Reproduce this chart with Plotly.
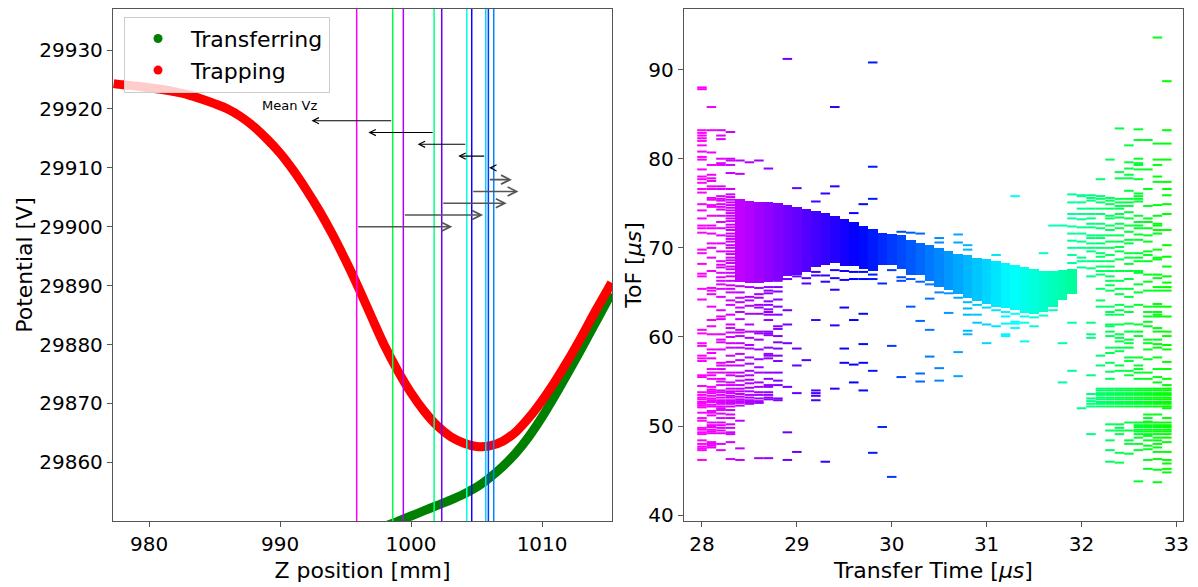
import plotly.graph_objects as go
from plotly.colors import sample_colorscale

# ---------------- left panel: on-axis potential ----------------
trap_z = [977.3, 978, 979, 980, 981, 982, 983, 984, 985, 986, 987, 988, 989, 990, 991, 992, 993,
          994, 995, 996, 997, 998, 999, 1000, 1001, 1002, 1003, 1004, 1005, 1006, 1007, 1008,
          1009, 1010, 1011, 1012, 1013, 1014, 1015, 1015.3]
trap_v = [29924.3, 29924.1, 29923.9, 29923.6, 29923.3, 29922.9, 29922.4, 29921.7, 29920.9,
          29920.0, 29918.7, 29917.0, 29914.9, 29912.5, 29909.6, 29906.3, 29902.7, 29898.7,
          29894.3, 29889.6, 29884.6, 29879.7, 29875.5, 29871.8, 29868.7, 29866.2, 29864.4,
          29863.3, 29862.7, 29862.8, 29863.6, 29865.2, 29867.6, 29870.5, 29873.8, 29877.4,
          29881.3, 29885.4, 29889.3, 29890.5]

transfer_z = [997.5, 998.3, 999, 1000, 1001, 1002, 1003, 1004, 1005, 1006, 1007, 1008, 1009, 1010,
              1011, 1012, 1013, 1014, 1015, 1015.3]
transfer_v = [29848.8, 29849.4, 29850.0, 29850.9, 29851.8, 29852.7, 29853.6, 29854.6, 29855.8,
              29857.4, 29859.3, 29861.6, 29864.4, 29867.7, 29871.4, 29875.3, 29879.3, 29883.4,
              29887.5, 29888.7]

# mean ion position and mean Vz at selected transfer times
mean_t = [28.0, 28.5, 29.0, 29.5, 30.0, 30.5, 31.0, 31.5, 32.0, 32.5]
mean_z = [995.85, 999.41, 1002.34, 1004.63, 1005.90, 1006.31, 1005.70, 1004.25, 1001.76, 998.60]
vz_tip_z = [1003.15, 1005.50, 1007.30, 1008.20, 1007.70, 1005.95, 1003.60, 1000.50, 996.74, 992.40]
vz_arrow_v = [29900, 29902, 29904, 29906, 29908, 29910, 29912, 29914, 29916, 29918]

# ---------------- right panel: ToF vs transfer time ----------------
col_t = [28.0, 28.1, 28.2, 28.3, 28.4, 28.5, 28.6, 28.7, 28.8, 28.9,
         29.0, 29.1, 29.2, 29.3, 29.4, 29.5, 29.6, 29.7, 29.8, 29.9,
         30.0, 30.1, 30.2, 30.3, 30.4, 30.5, 30.6, 30.7, 30.8, 30.9,
         31.0, 31.1, 31.2, 31.3, 31.4, 31.5, 31.6, 31.7, 31.8, 31.9,
         32.0, 32.1, 32.2, 32.3, 32.4, 32.5, 32.6, 32.7, 32.8, 32.9]

tof_280 = [88.0, 87.8, 83.2, 82.9, 82.6, 82.3, 82.0, 81.5, 80.8, 80.2, 79.9, 78.8, 78.0, 77.7, 77.3,
           76.6, 76.2, 74.9, 74.2, 73.3, 72.5, 72.2, 71.7, 69.8, 69.4, 68.2, 67.1, 66.8, 65.4, 64.2,
           60.8, 60.4, 59.3, 59.0, 57.9, 57.6, 57.3, 55.7, 55.5, 54.5, 53.8, 53.5, 53.2, 53.0, 52.7,
           52.5, 52.3, 52.1, 51.5, 50.9, 50.6, 49.8, 49.6, 49.3, 49.1, 48.4, 48.0, 47.7, 47.5, 47.3, 46.2]
tof_281 = [85.8, 83.2, 80.7, 79.3, 78.2, 77.8, 77.5, 76.9, 76.6, 75.6, 75.4, 74.8, 74.6, 73.6, 72.5,
           72.2, 71.6, 70.5, 70.0, 68.9, 67.4, 65.5, 65.2, 64.8, 63.4, 61.9, 61.2, 60.3, 58.6, 58.2,
           57.6, 56.4, 56.0, 55.7, 55.3, 54.4, 54.1, 53.9, 53.7, 53.4, 53.1, 52.9, 52.7, 52.4, 52.2,
           51.7, 51.5, 51.2, 50.4, 50.1, 49.9, 49.6, 49.4, 49.2, 48.2, 48.0, 47.8, 47.6]
tof_282 = [83.2, 82.6, 82.2, 80.0, 79.5, 79.3, 76.9, 76.6, 75.8, 75.5, 75.3, 74.9, 74.6, 74.3, 73.6,
           72.9, 72.2, 71.4, 70.5, 69.6, 68.5, 68.1, 67.8, 67.2, 66.7, 66.3, 65.9, 65.4, 64.5, 63.0,
           62.3, 62.0, 60.3, 59.7, 59.4, 58.6, 57.1, 56.8, 56.4, 56.0, 55.3, 55.0, 54.6, 54.0, 53.8,
           53.5, 53.2, 52.9, 52.7, 52.5, 52.2, 52.0, 51.8, 51.4, 50.9, 50.4, 50.1, 49.8, 49.5, 49.2,
           48.0, 47.3]
tof_283 = [83.0, 80.0, 79.8, 79.3, 78.4, 76.6, 76.0, 75.7, 75.4, 75.1, 74.8, 74.5, 74.2, 73.9, 73.6,
           73.3, 73.0, 72.6, 72.3, 72.0, 71.6, 71.3, 71.0, 70.7, 70.3, 70.0, 69.6, 69.3, 68.9, 68.6,
           68.3, 67.9, 67.6, 67.2, 66.8, 66.3, 65.8, 65.4,
           65.0, 64.1, 63.6, 62.5, 61.4, 61.0, 60.5, 60.0, 59.3, 58.8, 57.9, 57.2, 56.8, 56.0, 55.7,
           54.9, 54.6, 54.2, 53.9, 53.7, 53.4, 53.2, 52.9, 52.7, 52.5, 52.2, 51.8, 51.3, 50.9, 50.2,
           49.8, 49.3, 49.1, 48.2, 46.3]
tof_284 = [79.8, 78.3, 65.7, 65.0, 64.4, 63.9, 63.3, 62.8,
           62.0, 60.8, 60.5, 60.1, 59.3, 58.8, 58.1, 57.4, 56.8, 56.0, 55.6, 55.1, 54.6, 54.2, 53.9,
           53.6, 53.3, 53.0, 52.8, 52.6, 52.3, 50.6, 47.5, 46.2]
tof_285 = [79.6, 65.6, 64.5, 64.1, 63.5, 62.6, 61.4,
           60.6, 59.9, 59.1, 58.7, 57.7, 57.0, 56.2, 55.7, 55.2, 54.8, 54.3, 53.9, 53.5, 53.2, 52.9,
           52.7, 52.5]
tof_286 = [79.8, 65.5, 64.8, 64.4, 63.6, 63.3, 62.6, 60.6,
           60.4, 59.7, 58.6, 57.5, 56.6, 56.0, 54.9, 54.4, 53.8, 53.5, 53.1, 52.8, 52.6, 46.4]
tof_287 = [78.9, 65.6, 65.2, 64.9, 64.0, 63.6, 63.1, 62.8, 62.5, 61.9, 60.6, 60.4, 60.2, 58.8, 58.1,
           57.9, 57.6, 56.0, 55.3, 54.6, 54.4, 53.8, 53.5, 53.2, 53.0, 46.4]
tof_288 = [66.3, 65.6, 65.1, 64.2, 63.4, 62.5, 61.2, 60.9, 60.1, 59.4, 58.7, 57.9, 57.3, 56.0, 55.1,
           54.6, 53.1, 52.9]
tof_289 = [91.2, 66.5, 63.0, 61.4, 59.3, 54.4, 49.3, 46.2]
tof_290 = [76.7, 66.8, 58.7, 56.8, 53.7, 47.1]
tof_291 = [66.6, 66.0, 57.4]
tof_292 = [75.2, 67.3, 66.9, 61.9, 54.0, 53.7, 53.4, 52.9]
tof_293 = [76.1, 66.9, 66.2, 46.0]
tof_294 = [85.8, 76.9, 67.5, 66.6, 65.3, 61.3, 54.2]
tof_295 = [67.4, 66.4, 63.3, 58.7, 57.1]
tof_296 = [73.9, 67.3, 66.5, 61.9, 56.9, 54.9]
tof_297 = [74.9, 67.3, 66.5, 62.6, 59.2, 57.1, 54.0]
tof_298 = [90.8, 79.1, 75.5, 67.0, 66.5, 56.2, 47.0]
tof_299 = [66.0, 49.9]
tof_300 = [67.5, 59.0, 44.3]
tof_301 = [71.8, 66.7, 66.3, 55.5]
tof_302 = [71.7, 66.5, 63.4]
tof_303 = [71.6, 66.2, 61.8, 55.9, 55.0]
tof_304 = [65.9, 64.3, 60.8, 57.8]
tof_305 = [71.1, 70.6, 65.0, 56.5, 55.1]
tof_306 = [64.9, 62.7]
tof_307 = [71.5, 70.6, 64.4, 58.3, 55.6]
tof_308 = [70.3, 69.8, 63.9, 63.2, 62.5, 60.7, 60.3]
tof_309 = [63.6, 62.5, 61.6]
tof_310 = [63.3, 61.4, 59.3]
tof_311 = [69.2, 63.0, 61.2]
tof_312 = [62.8, 62.3, 61.5, 60.3, 60.1]
tof_313 = [75.8, 62.6, 61.7, 61.5, 61.0]
tof_314 = [62.3, 61.6, 59.5]
tof_315 = [62.2, 61.2]
tof_316 = [69.4, 62.4]
tof_317 = [72.5, 63.0]
tof_318 = [72.5, 59.3, 54.9]
tof_319 = [76.0, 75.1, 73.8, 73.3, 72.4, 71.6, 70.8, 70.0, 69.2, 68.3, 61.6, 56.2]
tof_320 = [75.9, 75.8, 75.1, 74.4, 73.8, 73.2, 72.3, 71.6, 70.7, 70.0, 68.9, 68.5, 67.8, 52.0]
tof_321 = [75.9, 75.6, 75.3, 74.4, 73.8, 73.3, 72.7, 72.3, 71.4, 71.1, 70.5, 70.0, 69.6, 68.5, 67.7,
           66.8, 61.6, 60.3, 59.9, 55.7, 53.6, 53.1, 52.8, 52.5, 52.2, 49.1]
tof_322 = [77.7, 75.8, 75.5, 75.1, 74.4, 73.8, 72.7, 72.2, 71.4, 71.1, 70.5, 70.0, 69.4, 69.0, 68.5,
           67.9, 67.4, 67.0, 65.4, 64.1, 63.4, 57.9, 56.8, 54.2, 54.0, 53.7, 53.5, 53.2, 53.0, 52.7,
           52.5, 52.2]
tof_323 = [79.9, 75.6, 75.3, 74.9, 74.4, 73.6, 73.3, 72.5, 72.0, 71.4, 70.7, 70.0, 69.2, 68.5, 67.9,
           67.4, 66.8, 66.3, 65.8, 65.2, 63.4, 62.8, 62.5, 61.4, 61.2, 60.6, 60.1, 58.8, 58.2, 57.1,
           56.1, 55.3, 54.2, 54.0, 53.7, 53.5, 53.2, 53.0, 52.7, 52.5, 52.2, 50.2, 49.5, 48.4, 47.3, 46.0]
tof_324 = [83.4, 78.5, 77.8, 75.5, 75.1, 74.7, 74.4, 73.8, 73.4, 72.7, 72.2, 71.4, 70.7, 70.1, 69.6,
           68.7, 67.4, 66.3, 65.4, 64.8, 63.6, 63.0, 62.5, 61.4, 60.3, 59.9, 59.5, 58.8, 58.4, 56.8,
           56.2, 54.2, 54.0, 53.7, 53.5, 53.2, 53.0, 52.7, 52.5, 52.2, 50.2, 49.8, 49.5, 49.1, 47.0, 45.9]
tof_325 = [81.5, 79.6, 78.9, 78.2, 77.8, 76.4, 75.5, 75.1, 74.7, 74.0, 73.3, 72.5, 71.8, 70.9, 70.5,
           69.4, 68.9, 68.2, 67.4, 66.5, 65.4, 64.5, 63.4, 62.8, 61.5, 60.6, 59.7, 59.3, 58.8, 57.7,
           57.3, 56.2, 55.7, 54.2, 54.0, 53.7, 53.5, 53.2, 53.0, 52.7, 52.5, 52.2, 50.4, 49.5, 48.4,
           48.0, 46.9]
tof_326 = [83.3, 82.1, 80.0, 79.5, 79.3, 78.8, 77.7, 76.1, 75.8, 75.5, 75.2, 73.6, 72.9, 72.5, 72.2,
           71.5, 70.9, 69.4, 68.9, 68.5, 67.4, 67.2, 65.9, 65.0, 63.6, 61.4, 60.6, 60.1, 57.7, 56.8,
           56.4, 56.0, 55.3, 54.2, 54.0, 53.7, 53.5, 53.2, 53.0, 52.7, 52.5, 52.2, 50.4, 50.1, 49.9,
           49.6, 49.4, 49.1, 48.7, 48.0, 47.3, 43.8]
tof_327 = [82.1, 78.8, 76.6, 74.7, 73.3, 72.9, 72.2, 71.4, 70.7, 69.6, 69.2, 68.5, 67.0, 66.2, 65.2,
           63.4, 62.8, 62.3, 61.7, 61.2, 59.7, 59.3, 58.6, 57.5, 56.0, 55.3, 54.2, 54.0, 53.7, 53.5,
           53.2, 53.0, 52.7, 52.5, 52.2, 51.3, 50.9, 50.5, 50.4, 50.1, 49.9, 49.6, 49.4, 49.1, 48.9,
           48.4, 47.8, 47.4, 46.2, 45.2]
tof_328 = [93.6, 81.7, 79.9, 79.3, 78.0, 77.4, 74.8, 73.6, 72.7, 72.5, 72.0, 71.6, 69.8, 68.9, 68.7,
           67.0, 66.6, 65.6, 65.2, 63.7, 63.4, 62.8, 62.5, 62.3, 61.0, 60.6, 59.7, 59.2, 58.8, 57.7,
           56.4, 55.5, 54.9, 54.2, 54.0, 53.7, 53.5, 53.2, 53.0, 52.7, 52.5, 52.2, 51.3, 50.4, 50.1,
           49.9, 49.6, 49.4, 49.1, 48.7, 48.4, 48.0, 47.6, 47.1, 46.3, 45.1, 43.7]
tof_329 = [88.7, 83.2, 81.7, 79.9, 77.4, 76.6, 75.9, 74.9, 73.8, 72.0, 70.3, 69.0, 67.9, 66.8, 66.1,
           65.6, 65.2, 63.4, 62.3, 60.6, 60.1, 59.1, 58.6, 57.2, 56.4, 55.3, 54.6, 54.2, 54.0, 53.7,
           53.5, 53.2, 53.0, 52.7, 52.5, 52.2, 52.0, 50.9, 50.4, 50.1, 49.9, 49.6, 49.4, 49.1, 48.7,
           48.2, 47.1, 46.2, 45.8, 45.2, 44.8]

tof_cols = [tof_280, tof_281, tof_282, tof_283, tof_284, tof_285, tof_286, tof_287, tof_288, tof_289,
            tof_290, tof_291, tof_292, tof_293, tof_294, tof_295, tof_296, tof_297, tof_298, tof_299,
            tof_300, tof_301, tof_302, tof_303, tof_304, tof_305, tof_306, tof_307, tof_308, tof_309,
            tof_310, tof_311, tof_312, tof_313, tof_314, tof_315, tof_316, tof_317, tof_318, tof_319,
            tof_320, tof_321, tof_322, tof_323, tof_324, tof_325, tof_326, tof_327, tof_328, tof_329]

# densely populated ToF ranges (solid blocks of hits) per transfer time
band_t = [28.4, 28.5, 28.6, 28.7, 28.8, 28.9, 29.0, 29.1, 29.2, 29.3, 29.4, 29.5, 29.6, 29.7, 29.8,
          29.9, 30.0, 30.1, 30.2, 30.3, 30.4, 30.5, 30.6, 30.7, 30.8, 30.9, 31.0, 31.1, 31.2, 31.3,
          31.4, 31.5, 31.6, 31.7, 31.8, 31.9]
band_lo = [66.2, 66.0, 66.1, 66.2, 66.4, 66.8, 67.0, 67.3, 67.9, 68.1, 68.3, 68.0, 68.0, 67.6, 67.4,
           68.1, 68.1, 67.6, 67.0, 66.9, 66.3, 65.6, 65.3, 64.8, 64.4, 64.0, 63.7, 63.4, 63.2, 63.0,
           62.7, 62.6, 62.8, 63.4, 64.1, 64.8]
band_hi = [75.5, 75.3, 75.2, 75.2, 75.0, 74.8, 74.6, 74.4, 74.1, 73.9, 73.6, 73.2, 72.9, 72.4, 72.1,
           71.7, 71.6, 71.4, 70.9, 70.5, 70.3, 70.0, 69.6, 69.3, 69.2, 68.9, 68.7, 68.5, 68.3, 68.1,
           67.8, 67.6, 67.4, 67.4, 67.5, 67.6]

# colour of each transfer time: magenta -> blue -> cyan -> green
T_SCALE = [[0.0, "#ff00ff"], [1 / 3, "#0000ff"], [2 / 3, "#00ffff"], [1.0, "#00ff00"]]
T_MIN, T_MAX = 28.0, 32.9

FONT = "DejaVu Sans"
AX_COL = "#555555"

fig = go.Figure()

# potential curves
fig.add_trace(go.Scatter(x=transfer_z, y=transfer_v, mode="lines", showlegend=False,
                         line=dict(color="#008000", width=9, shape="spline", smoothing=0.8),
                         xaxis="x", yaxis="y"))
fig.add_trace(go.Scatter(x=trap_z, y=trap_v, mode="lines", showlegend=False,
                         line=dict(color="#ff0000", width=9, shape="spline", smoothing=0.8),
                         xaxis="x", yaxis="y"))
# legend entries (dot markers)
fig.add_trace(go.Scatter(x=[None], y=[None], mode="markers", name="Transferring",
                         marker=dict(color="#008000", size=9), xaxis="x", yaxis="y"))
fig.add_trace(go.Scatter(x=[None], y=[None], mode="markers", name="Trapping",
                         marker=dict(color="#ff0000", size=9), xaxis="x", yaxis="y"))

# dense ToF blocks
fig.add_trace(go.Bar(x=band_t, y=[h - l for h, l in zip(band_hi, band_lo)], base=band_lo,
                     width=0.1, showlegend=False, hoverinfo="skip",
                     marker=dict(color=band_t, colorscale=T_SCALE, cmin=T_MIN, cmax=T_MAX,
                                 line=dict(width=0)),
                     xaxis="x2", yaxis="y2"))

# individual hits as short horizontal dashes
hit_t, hit_tof = [], []
for t, vals in zip(col_t, tof_cols):
    hit_t.extend([t] * len(vals))
    hit_tof.extend(vals)
fig.add_trace(go.Scatter(x=hit_t, y=hit_tof, mode="markers", showlegend=False,
                         marker=dict(symbol="line-ew", size=6.8,
                                     line=dict(width=2, color=hit_t, colorscale=T_SCALE,
                                               cmin=T_MIN, cmax=T_MAX)),
                         xaxis="x2", yaxis="y2"))

# vertical lines: mean position at each selected transfer time
line_cols = sample_colorscale(T_SCALE, [(t - T_MIN) / (T_MAX - T_MIN) for t in mean_t])
shapes = []
for z, c in zip(mean_z, line_cols):
    shapes.append(dict(type="line", xref="x", yref="y domain", x0=z, x1=z, y0=0, y1=1,
                       line=dict(color=c, width=1.5), layer="above"))

# mean Vz arrows
annotations = []
for z0, z1, v in zip(mean_z, vz_tip_z, vz_arrow_v):
    right = z1 > z0
    annotations.append(dict(x=z1, y=v, ax=z0, ay=v, xref="x", yref="y", axref="x", ayref="y",
                            showarrow=True, arrowhead=5, arrowsize=1.1,
                            arrowwidth=1.6 if right else 1.1,
                            arrowcolor="#555555" if right else "#000000",
                            standoff=0, startstandoff=0, text=""))
annotations.append(dict(x=990.7, y=29920.6, xref="x", yref="y", text="Mean Vz", showarrow=False,
                        font=dict(family=FONT, size=13, color="#000000")))

axis_common = dict(showgrid=False, zeroline=False, showline=True, mirror=True,
                   linecolor=AX_COL, linewidth=1.3, ticks="outside", ticklen=5, tickwidth=1.2,
                   tickcolor=AX_COL, tickfont=dict(family=FONT, size=20, color="#000000"))
title_font = dict(family=FONT, size=22, color="#000000")

fig.update_layout(
    width=1198, height=587,
    margin=dict(l=113, r=15, t=8, b=55),
    paper_bgcolor="white", plot_bgcolor="white",
    barmode="overlay", bargap=0,
    font=dict(family=FONT, color="#000000"),
    xaxis=dict(domain=[0, 0.4664], range=[977.25, 1015.34], tickvals=[980, 990, 1000, 1010],
               title=dict(text="Z position [mm]", font=title_font, standoff=7), anchor="y",
               **axis_common),
    yaxis=dict(domain=[0, 1], range=[29850.05, 29936.97], tickformat="d",
               tickvals=[29860, 29870, 29880, 29890, 29900, 29910, 29920, 29930],
               title=dict(text="Potential [V]", font=title_font, standoff=0), anchor="x",
               **axis_common),
    xaxis2=dict(domain=[0.5336, 1], range=[27.81, 33.07], tickvals=[28, 29, 30, 31, 32, 33],
                title=dict(text="Transfer Time [<i>μs</i>]", font=title_font, standoff=7),
                anchor="y2", **axis_common),
    yaxis2=dict(domain=[0, 1], range=[39.35, 96.8], tickvals=[40, 50, 60, 70, 80, 90],
                title=dict(text="ToF [<i>μs</i>]", font=title_font, standoff=0), anchor="x2",
                **axis_common),
    legend=dict(x=0.0103, y=0.985, xanchor="left", yanchor="top", tracegroupgap=0,
                bgcolor="rgba(255,255,255,0.8)", bordercolor="#cccccc", borderwidth=1,
                font=dict(family=FONT, size=22, color="#000000"), itemwidth=56),
    shapes=shapes,
    annotations=annotations,
)

fig.write_html("out.html")
